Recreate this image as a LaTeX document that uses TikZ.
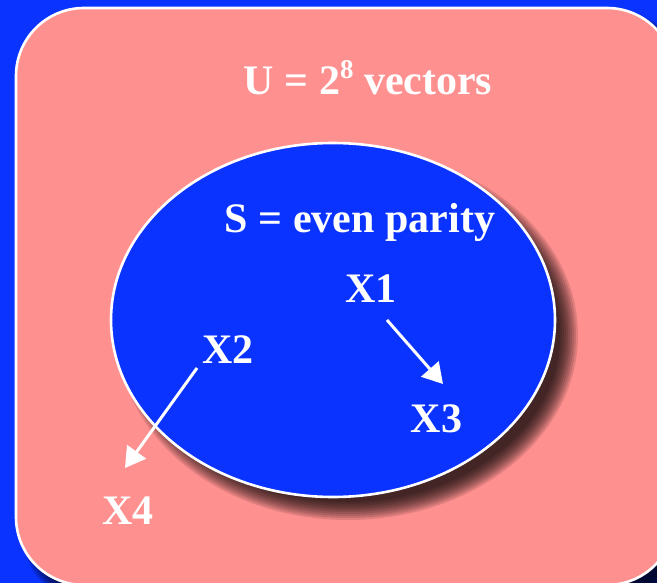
\documentclass[tikz,border=0pt]{standalone}
\usepackage{fontspec}
\setmainfont{Liberation Serif}
\usetikzlibrary{arrows.meta,shapes.geometric}
\definecolor{bgblue}{RGB}{10,51,255}
\definecolor{setpink}{RGB}{255,144,144}
\begin{document}
\begin{tikzpicture}[x=1pt,y=-1pt,
  lbl/.style={text=white,font=\fontsize{42}{42}\selectfont\bfseries,anchor=base,inner sep=0pt},
  arr/.style={draw=white,line width=3pt,-{Triangle[length=20pt,width=23pt]}},
  edge/.style={draw=white,line width=2.6pt}]
\useasboundingbox (0,0) rectangle (657,583);
\fill[bgblue] (0,0) rectangle (657,583);
% shadow of the universe box
\foreach \k in {1,...,10}{
  \pgfmathsetmacro{\d}{10-2*\k}
  \fill[black,opacity=0.15,rounded corners={68pt+\d pt}]
    ({30-\d},{22-\d}) rectangle ({689+\d},{599+\d});
}
\node[edge,fill=setpink,rounded corners=68pt,minimum width=659pt,minimum height=577pt,inner sep=0pt] (U) at (345.5,296.5) {};
% shadow of the subset ellipse
\foreach \k in {1,...,10}{
  \pgfmathsetmacro{\d}{10-2*\k}
  \fill[black,opacity=0.12] (348,335) ellipse [x radius={222pt+\d pt}, y radius={177pt+\d pt}];
}
\node[edge,fill=bgblue,ellipse,minimum width=444pt,minimum height=354pt,inner sep=0pt] (S) at (333,320) {};
% labels
\node[lbl] (ut) at (368,95) {U = 2{\fontsize{27}{27}\selectfont\raisebox{16pt}{8}} vectors};
\node[lbl] (st) at (360,233) {S = even parity};
\node[lbl] (x1) at (371,303) {X1};
\node[lbl] (x2) at (228,363) {X2};
\node[lbl] (x3) at (436.5,432) {X3};
\node[lbl] (x4) at (128,524) {X4};
% arrows
\coordinate (a1s) at (387,320);
\coordinate (a1e) at (443,384);
\coordinate (a2s) at (197,368);
\coordinate (a2e) at (125,468);
\draw[arr] (a1s) -- (a1e);
\draw[arr] (a2s) -- (a2e);
\end{tikzpicture}
\end{document}
